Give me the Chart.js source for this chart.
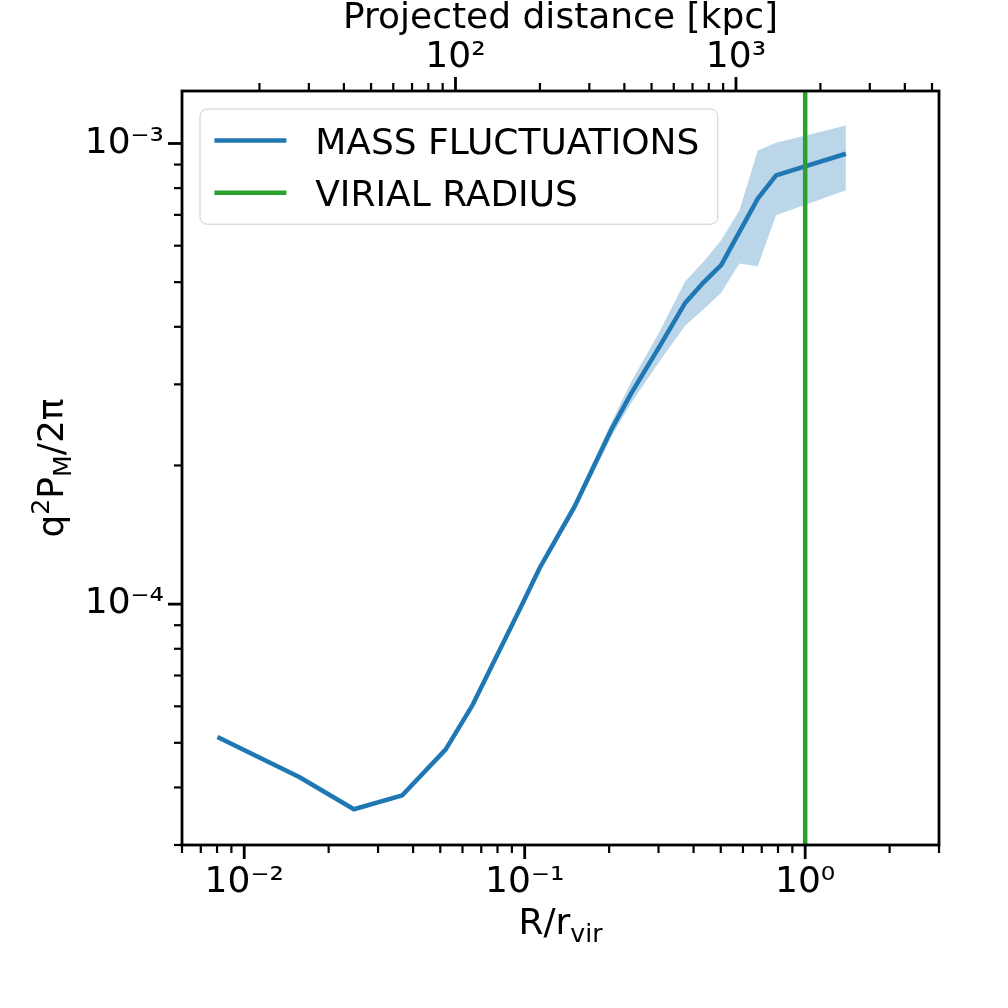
<!DOCTYPE html>
<html><head><meta charset="utf-8">
<script src="https://cdn.jsdelivr.net/npm/chart.js@4.4.1/dist/chart.umd.min.js"></script>
<style>html,body{margin:0;padding:0;background:#fff;}canvas{display:block;}</style>
</head><body>
<canvas id="c" width="1008" height="1008"></canvas>
<script>
// ---- data ----
const rOverRvir = [0.00803, 0.0157, 0.0246, 0.0366, 0.0523, 0.0653, 0.0974, 0.1133, 0.1509, 0.2036, 0.240, 0.3034, 0.3725, 0.4353, 0.5017, 0.583, 0.6776, 0.787, 1.397];
const massMean  = [5.146e-5, 4.215e-5, 3.587e-5, 3.846e-5, 4.838e-5, 6.053e-5, 9.916e-5, 1.201e-4, 1.632e-4, 2.392e-4, 2.872e-4, 3.636e-4, 4.497e-4, 5.001e-4, 5.445e-4, 6.427e-4, 7.59e-4, 8.527e-4, 9.5e-4];
const massLower = [5.10e-5, 4.17e-5, 3.55e-5, 3.81e-5, 4.79e-5, 5.99e-5, 9.75e-5, 1.175e-4, 1.59e-4, 2.31e-4, 2.737e-4, 3.374e-4, 4.017e-4, 4.372e-4, 4.742e-4, 5.49e-4, 5.417e-4, 6.985e-4, 7.911e-4];
const massUpper = [5.20e-5, 4.26e-5, 3.62e-5, 3.88e-5, 4.89e-5, 6.12e-5, 1.008e-4, 1.225e-4, 1.675e-4, 2.477e-4, 3.043e-4, 3.917e-4, 5.008e-4, 5.554e-4, 6.166e-4, 7.161e-4, 9.657e-4, 1.0035e-3, 1.094e-3];
const virialRadius = [1];
const rvirKpc = 1765;
const xLimits = [0.006, 3];
const yLimits = [3e-5, 1.3e-3];
const seriesLabels = ['MASS FLUCTUATIONS', 'VIRIAL RADIUS'];
const topTitle = 'Projected distance [kpc]';

// ---- styling ----
const FONT = '"DejaVu Sans", "Liberation Sans", sans-serif';
const FS = 36;
const LW = 4.5;
const BLUE = '#1f77b4', GREEN = '#2ca02c';
const BAND = 'rgba(31,119,180,0.3)';

const SUP = {'-':'\u207B','0':'\u2070','1':'\u00B9','2':'\u00B2','3':'\u00B3','4':'\u2074','5':'\u2075','6':'\u2076','7':'\u2077','8':'\u2078','9':'\u2079'};
function sup(n){ return String(n).split('').map(c => SUP[c]).join(''); }
function isPow10(v){ const l = Math.log10(v); return Math.abs(l - Math.round(l)) < 1e-6; }
function isLogTick(v){ const e = Math.floor(Math.log10(v) + 1e-9); const s = v / Math.pow(10, e); return Math.abs(s - Math.round(s)) < 1e-6; }
function powLabel(v){ return isPow10(v) ? '10' + sup(Math.round(Math.log10(v))) : ''; }

function drawRich(ctx, parts, x, y){
  let total = 0;
  parts.forEach(p => { ctx.font = (p.s * FS) + 'px ' + FONT; p.w = ctx.measureText(p.t).width; total += p.w; });
  let cx = x - total / 2;
  ctx.textAlign = 'left'; ctx.textBaseline = 'alphabetic';
  parts.forEach(p => { ctx.font = (p.s * FS) + 'px ' + FONT; ctx.fillText(p.t, cx, y + (p.dy || 0) * FS); cx += p.w; });
}

const decorPlugin = {
  id: 'decor',
  afterDraw(chart){
    const ctx = chart.ctx, a = chart.chartArea;
    ctx.save();
    ctx.strokeStyle = '#000'; ctx.fillStyle = '#000'; ctx.lineCap = 'butt';
    const drawTicks = (scale, side) => {
      scale.ticks.forEach(t => {
        const v = t.value;
        if (!isLogTick(v) || v < scale.min * (1 - 1e-9) || v > scale.max * (1 + 1e-9)) return;
        const p = scale.getPixelForValue(v);
        const major = isPow10(v);
        const len = major ? 14 : 8;
        ctx.lineWidth = major ? 2.8 : 2.2;
        ctx.beginPath();
        if (side === 'bottom') { ctx.moveTo(p, a.bottom); ctx.lineTo(p, a.bottom + len); }
        else if (side === 'top') { ctx.moveTo(p, a.top); ctx.lineTo(p, a.top - len); }
        else { ctx.moveTo(a.left, p); ctx.lineTo(a.left - len, p); }
        ctx.stroke();
      });
    };
    drawTicks(chart.scales.x, 'bottom');
    drawTicks(chart.scales.x2, 'top');
    drawTicks(chart.scales.y, 'left');
    // frame
    ctx.lineWidth = 2.8;
    ctx.strokeRect(a.left, a.top, a.right - a.left, a.bottom - a.top);

    // legend
    const items = [chart.data.datasets[1], chart.data.datasets[0]];
    ctx.font = FS + 'px ' + FONT;
    const tw = Math.max(...items.map(d => ctx.measureText(d.label).width));
    const pad = 0.4 * FS, hl = 2 * FS, htp = 0.8 * FS, rowH = 0.95 * FS, ls = 0.5 * FS;
    const bx = a.left + 0.5 * FS, by = a.top + 0.5 * FS;
    const bw = pad + hl + htp + tw + pad + 4, bh = 2 * pad + 2 * rowH + ls;
    ctx.beginPath();
    ctx.roundRect(bx, by, bw, bh, 0.2 * FS);
    ctx.fillStyle = 'rgba(255,255,255,0.8)'; ctx.fill();
    ctx.strokeStyle = '#cccccc'; ctx.lineWidth = 1; ctx.stroke();
    items.forEach((d, i) => {
      const cy = by + pad + rowH / 2 + i * (rowH + ls);
      ctx.strokeStyle = d.borderColor; ctx.lineWidth = LW;
      ctx.beginPath(); ctx.moveTo(bx + pad, cy); ctx.lineTo(bx + pad + hl, cy); ctx.stroke();
      ctx.fillStyle = '#000'; ctx.font = FS + 'px ' + FONT;
      ctx.textAlign = 'left'; ctx.textBaseline = 'alphabetic';
      ctx.fillText(d.label, bx + pad + hl + htp, cy + 0.365 * FS);
    });

    // axis titles
    ctx.fillStyle = '#000';
    const cxm = (a.left + a.right) / 2, cym = (a.top + a.bottom) / 2;
    drawRich(ctx, [{t: topTitle, s: 1}], cxm, 28);
    drawRich(ctx, [{t: 'R/r', s: 1}, {t: 'vir', s: 0.7, dy: 0.22}], cxm, 934);
    ctx.save();
    ctx.translate(63, cym);
    ctx.rotate(-Math.PI / 2);
    drawRich(ctx, [{t: 'q', s: 1}, {t: '2', s: 0.7, dy: -0.38}, {t: 'P', s: 1}, {t: 'M', s: 0.7, dy: 0.22}, {t: '/2\u03C0', s: 1}], 0, 0);
    ctx.restore();
    ctx.restore();
  }
};

const tickFont = {family: FONT, size: FS};
const chart = new Chart(document.getElementById('c').getContext('2d'), {
  type: 'line',
  data: {
    datasets: [
      {label: seriesLabels[1], data: [{x: virialRadius[0], y: yLimits[0]}, {x: virialRadius[0], y: yLimits[1]}],
       borderColor: GREEN, borderWidth: LW, pointRadius: 0, fill: false},
      {label: seriesLabels[0], data: rOverRvir.map((x, i) => ({x, y: massMean[i]})),
       borderColor: BLUE, borderWidth: LW, pointRadius: 0, borderJoinStyle: 'round', fill: false},
      {label: 'upper', data: rOverRvir.map((x, i) => ({x, y: massUpper[i]})),
       borderColor: 'rgba(0,0,0,0)', borderWidth: 0, pointRadius: 0, backgroundColor: BAND, fill: '+1'},
      {label: 'lower', data: rOverRvir.map((x, i) => ({x, y: massLower[i]})),
       borderColor: 'rgba(0,0,0,0)', borderWidth: 0, pointRadius: 0, fill: false}
    ]
  },
  options: {
    responsive: false, animation: false, devicePixelRatio: 1,
    layout: {padding: {left: 0, right: 69, top: 0, bottom: 0}},
    plugins: {legend: {display: false}, tooltip: {enabled: false}},
    scales: {
      x: {type: 'logarithmic', position: 'bottom', min: xLimits[0], max: xLimits[1],
          afterFit: s => { s.height = 163; },
          grid: {display: false, drawTicks: false}, border: {display: false},
          ticks: {autoSkip: false, maxRotation: 0, padding: 16, color: '#000', font: tickFont, callback: v => powLabel(v)}},
      x2: {type: 'logarithmic', position: 'top', min: xLimits[0] * rvirKpc, max: xLimits[1] * rvirKpc,
          afterFit: s => { s.height = 91; },
          grid: {display: false, drawTicks: false}, border: {display: false},
          ticks: {autoSkip: false, maxRotation: 0, padding: 12, color: '#000', font: tickFont, callback: v => powLabel(v)}},
      y: {type: 'logarithmic', position: 'left', min: yLimits[0], max: yLimits[1],
          afterFit: s => { s.width = 182; },
          grid: {display: false, drawTicks: false}, border: {display: false},
          ticks: {autoSkip: false, padding: 18, color: '#000', font: tickFont, callback: v => powLabel(v)}}
    }
  },
  plugins: [decorPlugin]
});
</script>
</body></html>
